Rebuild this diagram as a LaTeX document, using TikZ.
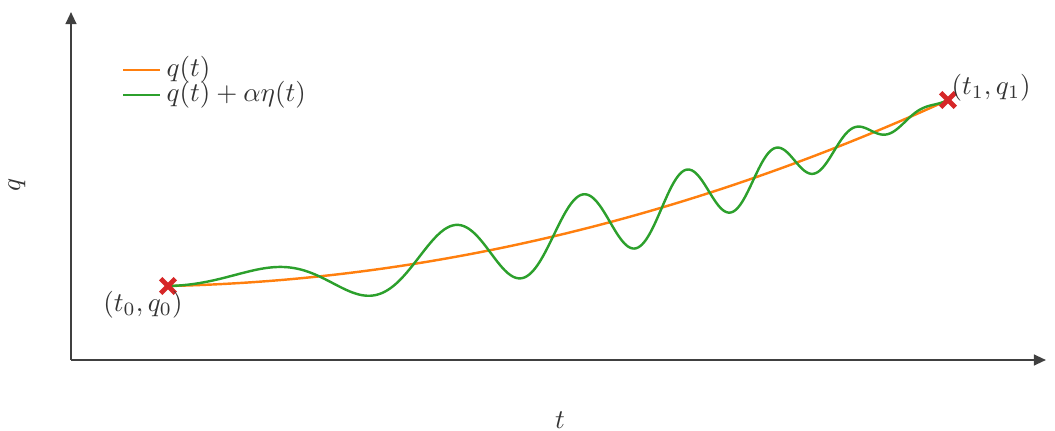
\documentclass[tikz,border=0pt]{standalone}
\usetikzlibrary{arrows.meta,shapes.misc}
\definecolor{tabor}{HTML}{FF7F0E}
\definecolor{tabgr}{HTML}{2CA02C}
\definecolor{tabrd}{HTML}{D62728}
\definecolor{axgray}{HTML}{404040}
\begin{document}
\begin{tikzpicture}[x=0.37pt,y=-0.37pt,
 axis/.style={draw=axgray, line width=0.75pt, -{Triangle[length=4.5pt,width=4pt]}},
 curve/.style={line width=0.9pt},
 xmark/.style={cross out, draw=tabrd, line width=1.8pt, minimum size=3.6pt, inner sep=0pt},
 lbl/.style={text=black!80, inner sep=0pt}]
\useasboundingbox (0,0) rectangle (1055,431);
\coordinate (O) at (71,360);
\coordinate (ytip) at (71,12);
\coordinate (xtip) at (1046,360);
\draw[axis] (O) -- (ytip);
\draw[axis] (O) -- (xtip);
% curves
\draw[curve, tabor] plot[domain=0:1, samples=200] ({168+780*\x},{286-186*(0.09*\x+0.91*\x*\x)});
\draw[curve, tabgr] plot[domain=0:1, samples=500] ({168+780*\x},{286-186*(0.09*\x+0.91*\x*\x)-35*sin(180*\x)*sin(deg(10.2*\x+30.9*\x*\x))});
% markers
\node[xmark] (p0) at (168,286) {};
\node[xmark] (p1) at (948,100) {};
\node[lbl] (l0) at (143,305) {$(t_0, q_0)$};
\node[lbl, anchor=west] (l1) at (951,88) {$(t_1, q_1)$};
% legend
\coordinate (la) at (123,70); \coordinate (lb) at (160,70);
\coordinate (lc) at (123,95); \coordinate (ld) at (160,95);
\draw[curve, tabor] (la) -- (lb);
\draw[curve, tabgr] (lc) -- (ld);
\node[lbl, anchor=west] (lq) at (166,70) {$q(t)$};
\node[lbl, anchor=west] (lqe) at (166,95) {$q(t)+\alpha\eta(t)$};
% axis labels
\node[lbl, rotate=90] (ql) at (17,185) {$q$};
\node[lbl] (tl) at (560,420) {$t$};
\end{tikzpicture}
\end{document}
